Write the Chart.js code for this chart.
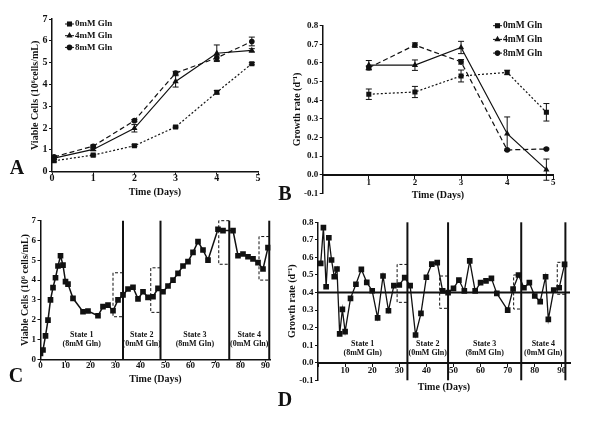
<!DOCTYPE html>
<html lang="en">
<head>
<meta charset="UTF-8">
<title>Glutamine batch and continuous culture</title>
<script src="https://cdn.jsdelivr.net/npm/chart.js"></script>
<style>
  body { margin: 0; background: #fff; }
  #fig { position: relative; width: 600px; height: 422px; overflow: hidden; }
  #fig canvas { position: absolute; }
  .tag {
    position: absolute;
    font: bold 20px 'Liberation Serif', 'Times New Roman', serif;
    color: #111;
    line-height: 1;
    transform: translate(-50%, -50%);
  }
</style>
</head>
<body>
<div id="fig">
  <canvas id="chartA" style="left:0;top:0" width="285" height="205"></canvas>
  <canvas id="chartB" style="left:285px;top:0" width="315" height="224"></canvas>
  <canvas id="chartC" style="left:0;top:210px" width="290" height="185"></canvas>
  <canvas id="chartD" style="left:280px;top:205px" width="320" height="210"></canvas>
  <div class="tag" style="left:17px;top:167px">A</div>
  <div class="tag" style="left:285px;top:193px">B</div>
  <div class="tag" style="left:16px;top:375px">C</div>
  <div class="tag" style="left:285px;top:399px">D</div>
</div>

<script>
  // Panel A: batch culture, viable cells
  const batchDays = [0.05, 1, 2, 3, 4, 4.85];
  const cells0mM = [0.50, 0.76, 1.19, 2.05, 3.64, 4.95];
  const cells0mMErr = [0.05, 0.04, 0.04, 0.04, 0.08, 0.05];
  const cells4mM = [0.62, 1.02, 1.99, 4.14, 5.43, 5.56];
  const cells4mMErr = [0.05, 0.05, 0.17, 0.26, 0.38, 0.08];
  const cells8mM = [0.68, 1.17, 2.34, 4.52, 5.22, 5.97];
  const cells8mMErr = [0.05, 0.05, 0.05, 0.08, 0.12, 0.20];

  // Panel B: batch culture, growth rate
  const rateDays = [1, 2, 3, 4, 4.85];
  const rate0mM = [0.432, 0.444, 0.530, 0.549, 0.335];
  const rate0mMErr = [0.028, 0.030, 0.032, 0.012, 0.047];
  const rate4mM = [0.588, 0.588, 0.683, 0.220, 0.027];
  const rate4mMErr = [0.025, 0.028, 0.033, 0.090, 0.057];
  const rate8mM = [0.574, 0.696, 0.606, 0.133, 0.138];
  const rate8mMErr = [0.010, 0.012, 0.012, 0.004, 0.004];

  // Panel C: continuous culture, viable cells
  const contDays = [0, 1, 2, 3, 4, 5, 6, 7, 8, 9, 10, 11, 13, 17, 19, 23, 25, 27, 29, 31,
                    33, 35, 37, 39, 41, 43, 45, 47, 49, 51, 53, 55, 57, 59, 61, 63, 65, 67,
                    71, 73, 77, 79, 81, 83, 85, 87, 89, 91];
  const contCells = [0.30, 0.47, 1.18, 1.98, 3.00, 3.62, 4.12, 4.71, 5.23, 4.76, 3.92, 3.80,
                     3.08, 2.40, 2.44, 2.20, 2.66, 2.74, 2.45, 3.00,
                     3.25, 3.55, 3.64, 3.05, 3.41, 3.13, 3.16, 3.58,
                     3.41, 3.70, 4.00, 4.34, 4.71, 4.93, 5.40, 5.94, 5.52, 5.01,
                     6.57, 6.50, 6.50, 5.23, 5.32, 5.18, 5.07, 4.88, 4.56, 5.64];
  const cellStateEnds = [33, 48, 75.5, 91.5];
  const cellBoxStart = [29, 44.1, 71.3, 87.4];
  const cellBoxLow = [2.15, 2.37, 4.80, 4.00];
  const cellBoxHigh = [4.37, 4.62, 7.00, 6.20];

  // Panel D: continuous culture, growth rate
  const rateContDays = [1, 2, 3, 4, 5, 6, 7, 8, 9, 10, 12, 14, 16, 18, 20, 22, 24, 26, 28, 30,
                        32, 34, 36, 38, 40, 42, 44, 46, 48, 50, 52, 54, 56, 58, 60, 62, 64, 66,
                        70, 72, 74, 76, 78, 80, 82, 84, 85, 87, 89, 91];
  const rateCont = [0.566, 0.770, 0.433, 0.712, 0.585, 0.490, 0.534, 0.164, 0.304, 0.177,
                    0.367, 0.447, 0.532, 0.458, 0.410, 0.256, 0.494, 0.296, 0.439, 0.443,
                    0.485, 0.439, 0.158, 0.281, 0.487, 0.562, 0.570, 0.409, 0.399,
                    0.424, 0.471, 0.409, 0.580, 0.409, 0.456, 0.466, 0.481, 0.395,
                    0.300, 0.420, 0.500, 0.427, 0.456, 0.380, 0.348, 0.490,
                    0.247, 0.414, 0.427, 0.560];
  const rateStateEnds = [33, 48, 75, 91.3];
  const rateBoxStart = [29.2, 44.9, 72.2, 88.3];
  const rateBoxLow = [0.344, 0.310, 0.306, 0.390];
  const rateBoxHigh = [0.560, 0.494, 0.500, 0.572];
  const setPoint = 0.4;

  const stateNames = ['State 1', 'State 2', 'State 3', 'State 4'];
  const stateGln = ['(8mM Gln)', '(0mM Gln)', '(8mM Gln)', '(0mM Gln)'];

  const ink = '#111';
  const serif = "'Liberation Serif', 'Times New Roman', serif";
  Chart.defaults.font.family = serif;
  Chart.defaults.font.weight = 'bold';
  Chart.defaults.color = ink;

  function pts(xs, ys) {
    return xs.map((x, i) => ({ x: x, y: ys[i] }));
  }

  function marker(ctx, style, x, y, r) {
    ctx.beginPath();
    if (style === 'rect') {
      const s = r * Math.SQRT1_2;
      ctx.rect(x - s, y - s, 2 * s, 2 * s);
    } else if (style === 'triangle') {
      ctx.moveTo(x, y - r);
      ctx.lineTo(x + r * 0.866, y + r * 0.5);
      ctx.lineTo(x - r * 0.866, y + r * 0.5);
      ctx.closePath();
    } else {
      ctx.arc(x, y, r, 0, Math.PI * 2);
    }
    ctx.fill();
  }

  // error bars, in-plot legend and state captions
  const decor = {
    id: 'decor',
    beforeDatasetsDraw(chart) {
      const { ctx, scales: { x, y } } = chart;
      ctx.save();
      ctx.strokeStyle = ink;
      ctx.lineWidth = 1;
      chart.data.datasets.forEach(ds => {
        if (!ds.errors) return;
        ds.data.forEach((p, i) => {
          const e = ds.errors[i];
          const px = x.getPixelForValue(p.x);
          const hi = y.getPixelForValue(p.y + e);
          const lo = y.getPixelForValue(p.y - e);
          ctx.beginPath();
          ctx.moveTo(px, hi); ctx.lineTo(px, lo);
          ctx.moveTo(px - 3, hi); ctx.lineTo(px + 3, hi);
          ctx.moveTo(px - 3, lo); ctx.lineTo(px + 3, lo);
          ctx.stroke();
        });
      });
      ctx.restore();
    },
    afterDatasetsDraw(chart, args, opts) {
      const { ctx, scales: { x, y } } = chart;
      ctx.save();
      ctx.fillStyle = ink;
      ctx.strokeStyle = ink;
      if (opts.legend) {
        const L = opts.legend;
        ctx.font = 'bold ' + L.size + 'px ' + serif;
        ctx.textBaseline = 'middle';
        ctx.textAlign = 'left';
        chart.data.datasets.filter(ds => ds.errors).forEach((ds, i) => {
          const yy = L.y + i * L.step;
          ctx.lineWidth = 1;
          ctx.beginPath();
          ctx.moveTo(L.x, yy); ctx.lineTo(L.x + 9, yy);
          ctx.stroke();
          marker(ctx, ds.pointStyle, L.x + 4.5, yy, ds.pointRadius);
          ctx.fillText(ds.label, L.x + 10, yy);
        });
      }
      if (opts.states) {
        const S = opts.states;
        ctx.font = 'bold 8px ' + serif;
        ctx.textAlign = 'center';
        ctx.textBaseline = 'middle';
        const edges = [x.min].concat(S.ends);
        stateNames.forEach((n, i) => {
          const cx = x.getPixelForValue((edges[i] + edges[i + 1]) / 2);
          const cy = y.getPixelForValue(S.at);
          ctx.fillText(n, cx, cy);
          ctx.fillText(stateGln[i], cx, cy + 8.5);
        });
      }
      ctx.restore();
    }
  };

  function series(label, xs, ys, errs, style, dash, r) {
    return {
      label: label, data: pts(xs, ys), errors: errs,
      borderColor: ink, backgroundColor: ink, borderWidth: 1.2, borderDash: dash,
      pointStyle: style, pointRadius: r, pointBackgroundColor: ink, pointBorderWidth: 0
    };
  }

  function stateLines(ends, lo, hi) {
    return ends.map(b => ({
      data: [{ x: b, y: lo }, { x: b, y: hi }],
      borderColor: ink, borderWidth: 2, pointRadius: 0, clip: false
    }));
  }

  function boxes(ends, starts, lows, highs) {
    return starts.map((s, i) => ({
      data: [{ x: ends[i], y: highs[i] }, { x: s, y: highs[i] }, { x: s, y: lows[i] }, { x: ends[i], y: lows[i] }],
      borderColor: ink, borderWidth: 1, borderDash: [3, 2], pointRadius: 0, clip: false
    }));
  }

  function scales(o) {
    const tickFont = { family: serif, size: o.tickSize, weight: 'bold', lineHeight: 1 };
    const titleFont = { family: serif, size: 10, weight: 'bold' };
    return {
      x: {
        type: 'linear', min: o.xMin, max: o.xMax,
        position: o.xAtZero ? { y: 0 } : 'bottom',
        afterFit: s => { s.height = o.xHeight; },
        ticks: {
          stepSize: o.xStep, includeBounds: false, autoSkip: false, maxRotation: 0,
          padding: o.xPad, font: tickFont, color: ink,
          callback: v => (o.hideZero && v === 0) ? '' : String(v)
        },
        grid: { drawOnChartArea: false, tickLength: 3, color: ink, lineWidth: 1 },
        border: { color: ink, width: o.xBorder },
        title: { display: true, text: 'Time (Days)', font: titleFont, color: ink, padding: { top: 0, bottom: o.xTitlePad } }
      },
      y: {
        type: 'linear', min: o.yMin, max: o.yMax,
        afterFit: s => { s.width = o.yWidth; },
        ticks: {
          stepSize: o.yStep, autoSkip: false, padding: 1.5, font: tickFont, color: ink,
          callback: v => o.yDecimals ? (Math.abs(v) < 1e-9 ? 0 : v).toFixed(1) : String(v)
        },
        grid: { drawOnChartArea: false, tickLength: 3, color: ink, lineWidth: 1 },
        border: { color: ink, width: 1.5 },
        title: { display: true, text: o.yTitle, font: titleFont, color: ink, padding: { top: o.yTitlePad, bottom: 0 } }
      }
    };
  }

  function draw(id, datasets, o, extra) {
    return new Chart(document.getElementById(id), {
      type: 'line',
      data: { datasets: datasets },
      options: {
        responsive: false,
        animation: false,
        events: [],
        layout: { padding: o.pad },
        scales: scales(o),
        plugins: { legend: { display: false }, tooltip: { enabled: false }, decor: extra }
      },
      plugins: [decor]
    });
  }

  draw('chartA', [
    series('0mM Gln', batchDays, cells0mM, cells0mMErr, 'rect', [2, 2], 3.6),
    series('4mM Gln', batchDays, cells4mM, cells4mMErr, 'triangle', [], 3.6),
    series('8mM Gln', batchDays, cells8mM, cells8mMErr, 'circle', [5, 3], 2.8)
  ], {
    pad: { left: 0, top: 19, right: 27, bottom: 0 },
    xMin: 0, xMax: 5, xStep: 1, xHeight: 33.3, xPad: -1, xTitlePad: 6.3, xBorder: 1.5, tickSize: 10,
    yMin: 0, yMax: 7, yStep: 1, yWidth: 52, yTitlePad: 29, yTitle: 'Viable Cells (10\u2076cells/mL)'
  }, { legend: { x: 65, y: 24, step: 11.7, size: 9 } });

  // axes placed at y = 0 take no layout room, so the bottom padding sets the plot floor
  draw('chartB', [
    series('0mM Gln', rateDays, rate0mM, rate0mMErr, 'rect', [2, 2], 3.6),
    series('4mM Gln', rateDays, rate4mM, rate4mMErr, 'triangle', [], 3.6),
    series('8mM Gln', rateDays, rate8mM, rate8mMErr, 'circle', [5, 3], 2.8)
  ], {
    pad: { left: 0, top: 25.7, right: 46.7, bottom: 30.7 },
    xMin: 0, xMax: 5, xStep: 1, xHeight: 30, xPad: 0, xTitlePad: 3.7, xBorder: 2, tickSize: 9,
    xAtZero: true, hideZero: true,
    yMin: -0.1, yMax: 0.8, yStep: 0.1, yDecimals: true, yWidth: 37.7, yTitlePad: 6.5,
    yTitle: 'Growth rate (d\u207B\u00B9)'
  }, { legend: { x: 208, y: 25.7, step: 13.7, size: 9.5 } });

  draw('chartC', [
    {
      data: pts(contDays, contCells), borderColor: ink, backgroundColor: ink, borderWidth: 1.5,
      pointStyle: 'rect', pointRadius: 4, pointBackgroundColor: ink, pointBorderWidth: 0
    },
    ...stateLines(cellStateEnds, 0, 7),
    ...boxes(cellStateEnds, cellBoxStart, cellBoxLow, cellBoxHigh)
  ], {
    pad: { left: 0, top: 10.7, right: 19.5, bottom: 0 },
    xMin: 0, xMax: 92, xStep: 10, xHeight: 35.7, xPad: -1, xTitlePad: 9.7, xBorder: 1.5, tickSize: 9,
    yMin: 0, yMax: 7, yStep: 1, yWidth: 40.5, yTitlePad: 19, yTitle: 'Viable Cells (10\u2076 cells/mL)'
  }, { states: { ends: cellStateEnds, at: 1.23 } });

  draw('chartD', [
    {
      data: pts(rateContDays, rateCont), borderColor: ink, backgroundColor: ink, borderWidth: 1.3,
      pointStyle: 'rect', pointRadius: 4, pointBackgroundColor: ink, pointBorderWidth: 0
    },
    { data: [{ x: 0, y: setPoint }, { x: 93, y: setPoint }], borderColor: ink, borderWidth: 2, pointRadius: 0 },
    ...stateLines(rateStateEnds, -0.1, 0.8),
    ...boxes(rateStateEnds, rateBoxStart, rateBoxLow, rateBoxHigh)
  ], {
    pad: { left: 0, top: 17.3, right: 30, bottom: 34.7 },
    xMin: 0, xMax: 93, xStep: 10, xHeight: 34, xPad: 0, xTitlePad: 3.4, xBorder: 2, tickSize: 9,
    xAtZero: true, hideZero: true,
    yMin: -0.1, yMax: 0.8, yStep: 0.1, yDecimals: true, yWidth: 38, yTitlePad: 6,
    yTitle: 'Growth rate (d\u207B\u00B9)'
  }, { states: { ends: rateStateEnds, at: 0.107 } });
</script>
</body>
</html>
